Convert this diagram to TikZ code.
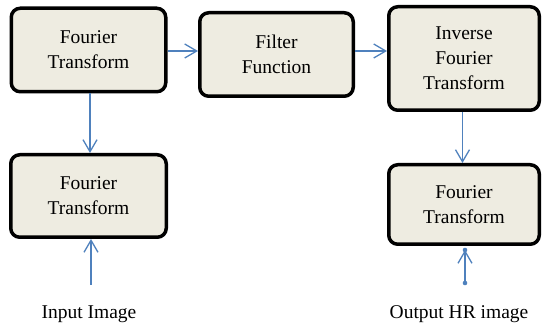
\documentclass[tikz,border=0pt]{standalone}
\usepackage{fontspec}
\setmainfont{Liberation Serif}
\usetikzlibrary{arrows.meta}
\definecolor{boxfill}{HTML}{EEECE1}
\definecolor{linkblue}{HTML}{4F81BD}
\tikzset{
  blockbox/.style={draw=black,line width=3.5pt,rounded corners=9pt,fill=boxfill,
    align=center,inner sep=0.75pt,font=\fontsize{19.5}{25}\selectfont},
  link/.style={draw=linkblue,line width=1.3pt,-{Straight Barb[length=12pt,width=14pt]}},
  lbl/.style={anchor=base,inner sep=0.75pt,font=\fontsize{19.5}{25}\selectfont}
}
\begin{document}
\begin{tikzpicture}[x=1pt,y=1pt,yscale=-1,xscale=1]
\path[use as bounding box] (0,0) rectangle (542,328); %set diagram size 542 x 328

%Rounded Rect
\node [blockbox,minimum width=154.5pt,minimum height=83.5pt] (ftin) at (88.5,50) {Fourier\\Transform};
%Rounded Rect
\node [blockbox,minimum width=153.5pt,minimum height=83.5pt] (filt) at (276.5,54.5) {Filter\\Function};
%Rounded Rect
\node [blockbox,minimum width=150.5pt,minimum height=103.5pt] (ift) at (464,58.5) {Inverse\\Fourier\\Transform};
%Rounded Rect
\node [blockbox,minimum width=155.5pt,minimum height=82.5pt] (ftlow) at (88.5,196) {Fourier\\Transform};
%Rounded Rect
\node [blockbox,minimum width=150.5pt,minimum height=79.5pt] (ftout) at (464,204.5) {Fourier\\Transform};

% Text Node
\node [lbl] (inlbl) at (89,319) {Input Image};
% Text Node
\node [lbl] (outlbl) at (459,319) {Output HR image};

\coordinate (insrc) at (91,285);
\coordinate (outsrc) at (465,283);
\coordinate (outtip) at (465,250);

%Straight Lines
\draw [link] ([yshift=1pt]ftin.east) -- ([yshift=1pt]ftin.east -| filt.west);
%Straight Lines
\draw [link] ([yshift=1pt]ftin.east -| filt.east) -- ([yshift=1pt]ftin.east -| ift.west);
%Straight Lines
\draw [link] ([xshift=1.5pt]ftin.south) -- ([xshift=1.5pt]ftlow.north);
%Straight Lines
\draw [link] ([xshift=-1.5pt]ift.south) -- ([xshift=-1.5pt]ftout.north);
%Straight Lines
\draw [link] (insrc) -- (insrc |- ftlow.south);
%Straight Lines
\draw [link] (outsrc) -- (outtip);
\fill [linkblue] (outsrc) circle (2.3pt) (outtip) circle (2.3pt);

\end{tikzpicture}
\end{document}
